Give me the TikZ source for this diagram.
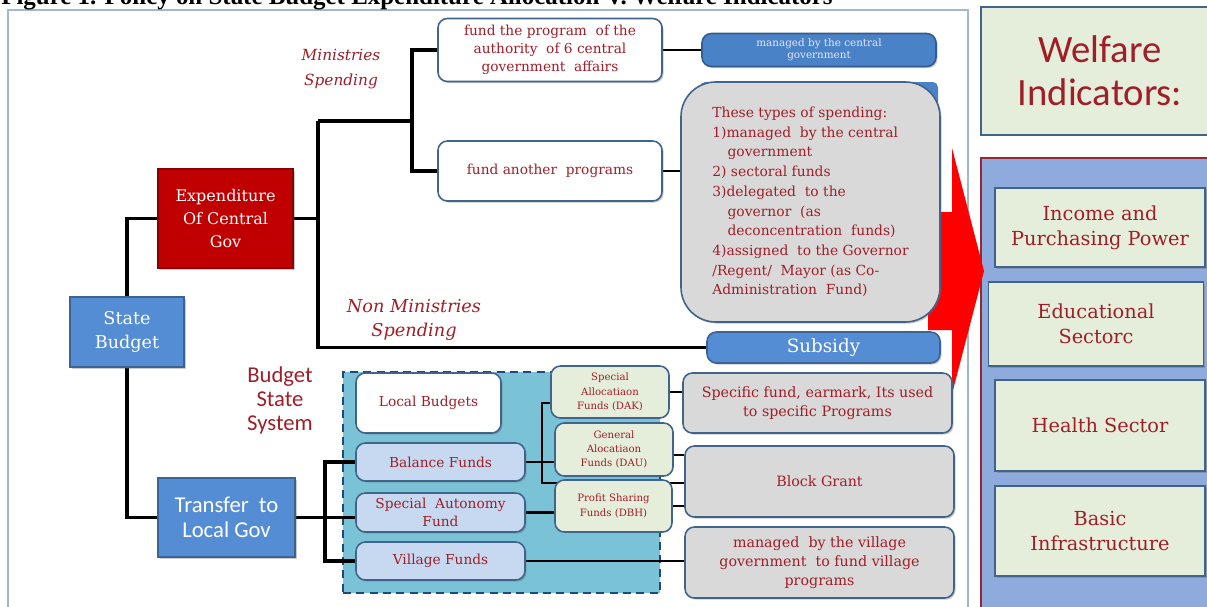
\documentclass[tikz,border=0pt]{standalone}
\usepackage{fontspec}
\setmainfont{DejaVu Serif}
\setsansfont{Carlito}
\newfontfamily\titlefont{Liberation Serif}
\usetikzlibrary{shadows}
\pgfdeclarelayer{back}
\pgfdeclarelayer{background}
\pgfsetlayers{back,background,main}
\definecolor{txtred}{RGB}{160,30,40}
\definecolor{stateblue}{RGB}{84,141,212}
\definecolor{midblue}{RGB}{74,130,200}
\definecolor{expred}{RGB}{192,0,0}
\definecolor{edgeblue}{RGB}{65,100,140}
\definecolor{paleblue}{RGB}{198,217,241}
\definecolor{palegreen}{RGB}{229,238,218}
\definecolor{boxgray}{RGB}{217,217,217}
\definecolor{poolteal}{RGB}{122,195,214}
\definecolor{pooledge}{RGB}{31,73,125}
\definecolor{panelblue}{RGB}{143,170,220}
\definecolor{paneledge}{RGB}{150,40,50}
\definecolor{framegray}{RGB}{160,185,205}
\begin{document}
\begin{tikzpicture}[x=0.75pt,y=-0.75pt,
	sz/.style 2 args={minimum width=#1*0.75pt,minimum height=#2*0.75pt},
	shad/.style={drop shadow={shadow xshift=1.2pt,shadow yshift=-1.2pt,opacity=0.35,fill=black!60}},
	box/.style={draw=edgeblue,line width=1.2pt,rounded corners=7pt,inner sep=0pt,align=center,text=txtred,font=\fontsize{10.3}{13.5}\selectfont},
	wbox/.style={box,fill=white},
	lbbox/.style={box,fill=paleblue},
	gbox/.style={box,fill=palegreen,font=\fontsize{7.6}{10.8}\selectfont},
	graybox/.style={box,fill=boxgray},
	bluebox/.style={draw=stateblue!70!black,line width=1pt,fill=stateblue,inner sep=0pt,align=center,text=white},
	indbox/.style={draw=edgeblue,line width=1.3pt,fill=palegreen,inner sep=0pt,align=center,text=txtred,font=\fontsize{14.5}{19}\selectfont},
	lab/.style={text=txtred,align=center,inner sep=0pt},
	trunk/.style={line width=2.6pt,black},
	link/.style={line width=1.8pt,black}]
	\useasboundingbox (0,0) rectangle (1207,607);
	\node[anchor=base west,inner sep=0pt,font=\titlefont\bfseries\fontsize{18.7}{20}\selectfont] (title) at (1,4) {Figure 1. Policy on State Budget Expenditure Allocation V. Welfare Indicators};

	\begin{pgfonlayer}{back}
		\draw[framegray,line width=1pt] (8,10) rectangle (968,640);
		\node[draw=pooledge,fill=poolteal,line width=2pt,dash pattern=on 6pt off 4pt,sz={317}{221}] (pool) at (501.5,482.5) {};
		\draw[paneledge,fill=panelblue,line width=1pt] (981,158) rectangle (1230,640);
		\fill[red] (928,212) -- (952,212) -- (952,148) -- (984,271) -- (952,394) -- (952,330) -- (928,330) -- cycle;
		\fill[midblue,rounded corners=4pt] (700,82) rectangle (938,115);
	\end{pgfonlayer}

	\node[bluebox,sz={114}{70},font=\fontsize{13.2}{18}\selectfont,shad] (sb) at (127,332) {State\\Budget};
	\node[bluebox,fill=expred,draw=expred!70!black,sz={135}{99},font=\fontsize{12}{17.5}\selectfont,shad] (exp) at (225.5,218.5) {Expenditure\\Of Central\\Gov};
	\node[bluebox,sz={137}{79},font=\sffamily\fontsize{17}{19}\selectfont,shad] (tr) at (226.5,517.5) {Transfer~ to\\Local Gov};

	\node[lab,font=\itshape\fontsize{11.5}{19}\selectfont] (minlab) at (341,69) {Ministries\\Spending};
	\node[lab,font=\itshape\fontsize{13.3}{18}\selectfont] (nonlab) at (414,320) {Non Ministries\\Spending};
	\node[lab,font=\sffamily\fontsize{17}{18}\selectfont] (bsslab) at (280,400) {Budget\\State\\System};

	\node[wbox,sz={224}{63},shad] (prog6) at (550,50) {fund the program~ of the\\authority~ of 6 central\\government~ affairs};
	\node[box,fill=midblue,draw=midblue!70!black,sz={234}{33},text=white!90!blue,font=\fontsize{7.8}{9}\selectfont,shad] (central) at (819,50) {managed by the central\\government};
	\node[wbox,sz={224}{60},shad] (another) at (550,171) {fund another~ programs};
	\node[graybox,rounded corners=26pt,sz={259}{240},align=left,font=\fontsize{10.4}{14.8}\selectfont,shad] (types) at (810.5,202) {These types of spending:\\1)managed~ by the central\\\hspace*{1.1em}government\\2) sectoral funds\\3)delegated~ to the\\\hspace*{1.1em}governor~ (as\\\hspace*{1.1em}deconcentration~ funds)\\4)assigned~ to the Governor\\/Regent/~ Mayor (as Co-\\Administration~ Fund)};
	\node[box,fill=stateblue,draw=stateblue!70!black,text=white,sz={233}{31},font=\fontsize{13.7}{16}\selectfont,shad] (sub) at (823.5,347.5) {Subsidy};

	\node[wbox,sz={145}{60},shad] (lb) at (428.5,403) {Local Budgets};
	\node[lbbox,sz={169}{38},shad] (bal) at (440.5,462) {Balance Funds};
	\node[lbbox,sz={169}{39},shad] (sa) at (440.5,512.5) {Special~ Autonomy\\Fund};
	\node[lbbox,sz={169}{38},shad] (vf) at (440.5,561) {Village Funds};
	\node[gbox,sz={118}{52}] (dak) at (610,392) {Special\\Allocatiaon\\Funds (DAK)};
	\node[gbox,sz={118}{53}] (dau) at (614,449.5) {General\\Alocatiaon\\Funds (DAU)};
	\node[gbox,sz={117}{52}] (dbh) at (613.5,506) {Profit Sharing\\Funds (DBH)};

	\node[graybox,sz={269}{60},font=\fontsize{10.7}{14.5}\selectfont,shad] (spec) at (817.5,403) {Specific fund, earmark, Its used\\to specific Programs};
	\node[graybox,sz={269}{71},font=\fontsize{10.7}{14.5}\selectfont,shad] (blk) at (819.5,481.5) {Block Grant};
	\node[graybox,sz={269}{71},font=\fontsize{10.7}{14.5}\selectfont,shad] (vman) at (819.5,562.5) {managed~ by the village\\government~ to fund village\\programs};

	\node[indbox,sz={238}{128},font=\sffamily\fontsize{29}{32}\selectfont] (welf) at (1100,71) {Welfare\\Indicators:};
	\node[indbox,sz={210}{79},shad] (ipp) at (1100,227.5) {Income and\\Purchasing Power};
	\node[indbox,sz={215}{84},shad] (edu) at (1096,324) {Educational\\Sectorc};
	\node[indbox,sz={210}{91},shad] (hs) at (1100,425.5) {Health Sector};
	\node[indbox,sz={210}{90},shad] (bi) at (1100,531) {Basic\\Infrastructure};

	\coordinate (mtop) at (318,121);
	\coordinate (mbot) at (318,347.5);
	\coordinate (mins) at (412,121);
	\coordinate (tx) at (325,517.5);
	\coordinate (btop) at (542,403);
	\coordinate (bbot) at (542,483);
	\begin{pgfonlayer}{background}
		\draw[trunk] (sb.north) |- (exp.west);
		\draw[trunk] (sb.south) |- (tr.west);
		\draw[trunk] (exp.east) -- (exp.east -| mtop);
		\draw[trunk] (mtop) -- (mbot) -- (sub.west);
		\draw[trunk] (mtop) -- (mins);
		\draw[trunk,line width=3pt] (prog6.west) -| (mins) |- (another.west);
		\draw[link] (prog6.east) -- (central.west);
		\draw[link] (another.east) -- (another.east -| types.west);
		\draw[trunk] (tr.east) -- (tr.east -| sa.west);
		\draw[trunk] (bal.west) -| (tx) |- (vf.west);
		\draw[link] (bal.east) -- (bal.east -| dau.west);
		\draw[link] (btop -| dak.west) -- (btop) -- (bbot) -- (bbot -| blk.west);
		\draw[link] (sa.east) -- (sa.east -| dbh.west);
		\draw[link] (dak.east) -- (dak.east -| spec.west);
		\draw[link] ([yshift=-4pt]dau.east) -- ([yshift=-4pt]dau.east -| blk.west);
		\draw[link] (dbh.east) -- (dbh.east -| blk.west);
		\draw[link] (vf.east) -- (vf.east -| vman.west);
	\end{pgfonlayer}
\end{tikzpicture}
\end{document}
